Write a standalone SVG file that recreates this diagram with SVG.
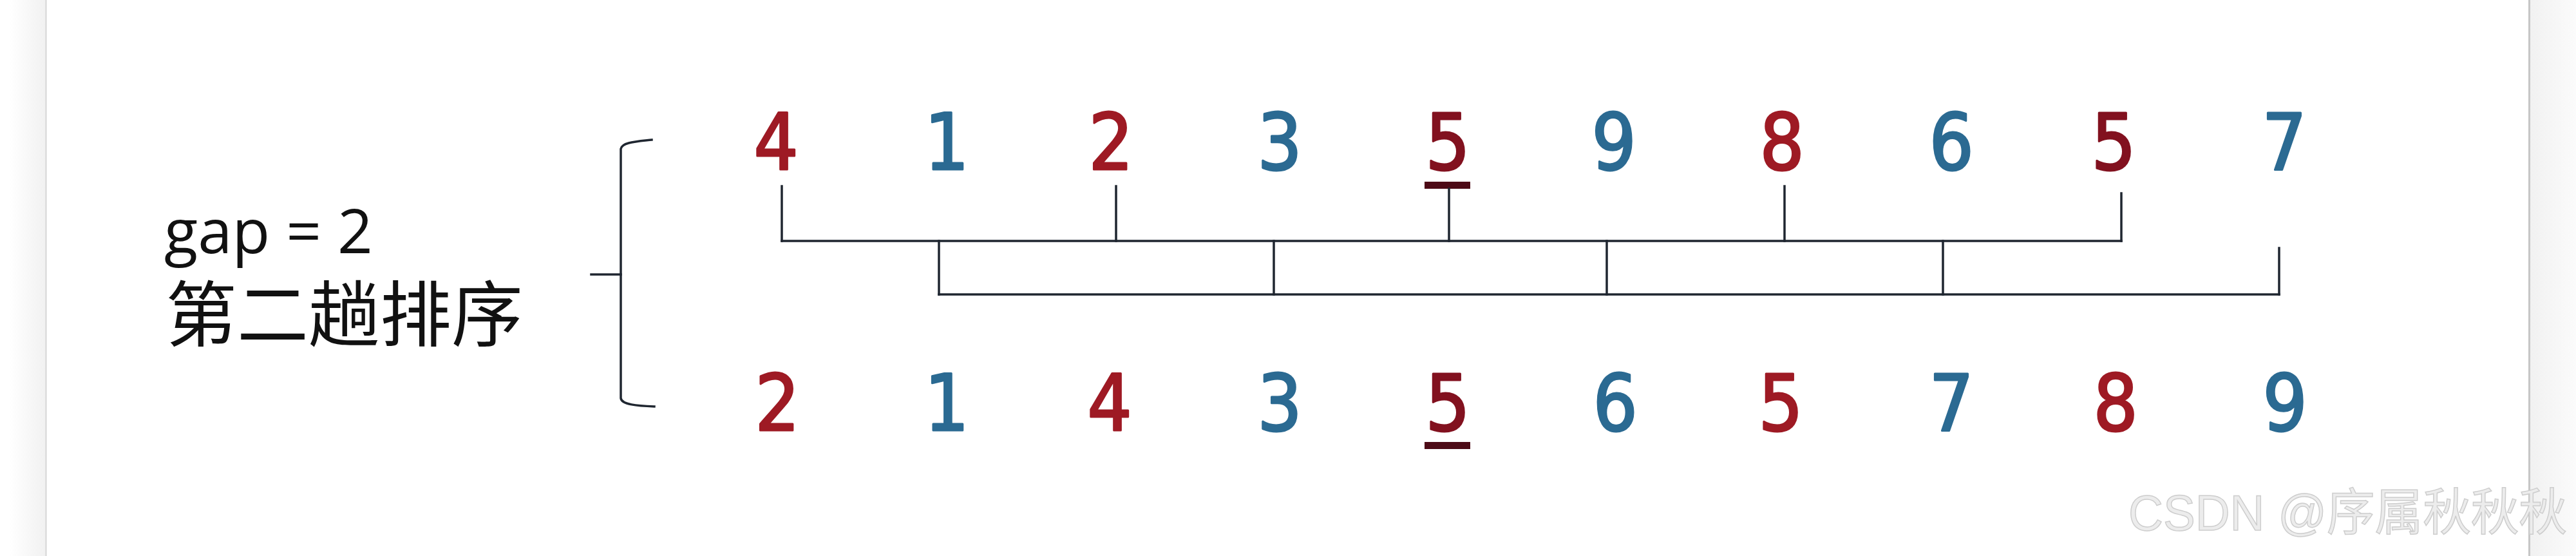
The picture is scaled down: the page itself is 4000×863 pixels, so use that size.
<svg xmlns="http://www.w3.org/2000/svg" width="4000" height="863" viewBox="0 0 4000 863">
<style>
.r{fill:#9e1a24;stroke:#9e1a24;stroke-width:3}
.m{fill:#82111f;stroke:#82111f;stroke-width:3}
.b{fill:#2b6a92;stroke:#2b6a92;stroke-width:3}
.d{font-family:"DejaVu Sans Condensed","DejaVu Sans",sans-serif;font-size:121px;text-anchor:middle;stroke-linejoin:round}
.ln{stroke:#1f2630;stroke-width:3.5;fill:none;stroke-linecap:square}
.ul{fill:#4d0a16}
</style>
<defs>
<linearGradient id="lp" x1="0" x2="1" y1="0" y2="0"><stop offset="0" stop-color="#ffffff"/><stop offset="1" stop-color="#f1f1f1"/></linearGradient>
<linearGradient id="rp" x1="0" x2="1" y1="0" y2="0"><stop offset="0" stop-color="#f1f1f1"/><stop offset="1" stop-color="#fbfbfb"/></linearGradient>
</defs>
<rect width="4000" height="863" fill="#ffffff"/>
<g id="page-frame">
<rect x="15" y="0" width="56" height="863" fill="url(#lp)"/>
<line x1="71.5" y1="0" x2="71.5" y2="863" stroke="#d6d6d6" stroke-width="2"/>
<rect x="3928" y="0" width="72" height="863" fill="url(#rp)"/>
<line x1="3927.5" y1="0" x2="3927.5" y2="863" stroke="#c6c6c6" stroke-width="3"/>
</g>
<g id="label">
<text x="255" y="393" font-family="'Open Sans',sans-serif" font-size="96" fill="#111">gap = 2</text>
<text x="257" y="529" font-family="'Noto Sans CJK SC',sans-serif" font-size="111" fill="#111">第二趟排序</text>
</g>
<g id="brace">
<path class="ln" stroke-width="4" d="M1012,217 C985,220 966,221 964,231 L964,618 C965,628 990,630 1016,631"/>
<line class="ln" stroke-width="4" x1="918" y1="426" x2="964" y2="426"/>
</g>
<g id="top-row">
<text class="d r" x="1205" y="263">4</text>
<text class="d b" x="1470" y="263">1</text>
<text class="d r" x="1725" y="263">2</text>
<text class="d b" x="1987" y="263">3</text>
<text class="d m" x="2248" y="263">5</text>
<rect class="ul" x="2212" y="282" width="71" height="11"/>
<text class="d b" x="2506" y="263">9</text>
<text class="d r" x="2767" y="263">8</text>
<text class="d b" x="3030" y="263">6</text>
<text class="d m" x="3282" y="263">5</text>
<text class="d b" x="3547" y="263">7</text>
</g>
<g id="bottom-row">
<text class="d r" x="1207" y="668">2</text>
<text class="d b" x="1470" y="668">1</text>
<text class="d r" x="1723" y="668">4</text>
<text class="d b" x="1987" y="668">3</text>
<text class="d m" x="2248" y="668">5</text>
<rect class="ul" x="2212" y="686" width="71" height="11"/>
<text class="d b" x="2508" y="668">6</text>
<text class="d r" x="2765" y="668">5</text>
<text class="d b" x="3030" y="668">7</text>
<text class="d r" x="3285" y="668">8</text>
<text class="d b" x="3548" y="668">9</text>
</g>
<g id="connectors">
<line class="ln" x1="1214" y1="374" x2="3294" y2="374"/>
<line class="ln" x1="1214" y1="289" x2="1214" y2="374"/>
<line class="ln" x1="1733" y1="289" x2="1733" y2="374"/>
<line class="ln" x1="2250" y1="293" x2="2250" y2="374"/>
<line class="ln" x1="2771" y1="289" x2="2771" y2="374"/>
<line class="ln" x1="3294" y1="300" x2="3294" y2="374"/>
<line class="ln" x1="1458" y1="457" x2="3539" y2="457"/>
<line class="ln" x1="1458" y1="374" x2="1458" y2="457"/>
<line class="ln" x1="1978" y1="374" x2="1978" y2="457"/>
<line class="ln" x1="2495" y1="374" x2="2495" y2="457"/>
<line class="ln" x1="3017" y1="374" x2="3017" y2="457"/>
<line class="ln" x1="3539" y1="385" x2="3539" y2="457"/>
</g>
<g id="watermark">
<text x="3305" y="823" font-family="'Liberation Sans','Noto Sans CJK SC',sans-serif" font-size="78" fill="#ececec" stroke="#cdcdcd" stroke-width="1.5" textLength="681" lengthAdjust="spacingAndGlyphs">CSDN @序属秋秋秋</text>
</g>
</svg>
